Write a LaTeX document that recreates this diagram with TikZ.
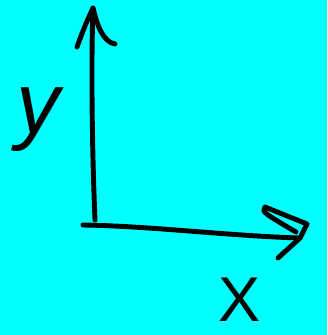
\documentclass[tikz,border=0pt]{standalone}
\usepackage{fontspec}
\setmainfont{Liberation Sans}
\definecolor{sheet}{RGB}{0,255,255}
\begin{document}
\begin{tikzpicture}[x=0.03cm,y=-0.03cm,line width=4.2pt,line cap=round,line join=round]
  \fill[sheet] (0,0) rectangle (327,335);
  \useasboundingbox (0,0) rectangle (327,335);
  % axes
  \coordinate (yfoot) at (95,220);
  \coordinate (ytip)  at (93,8);
  \coordinate (xfoot) at (83,225);
  \coordinate (xtip)  at (300,238);
  \draw (yfoot) .. controls (92,150) and (91,60) .. (ytip);
  \draw (77,47) .. controls (84,28) .. (ytip) .. controls (97,25) and (103,42) .. (115,44);
  \draw (xfoot) .. controls (150,226) and (230,236) .. (xtip);
  \draw (278,258) -- (xtip) -- (307,224) -- (265,207) .. controls (262,212) .. (296,232);

  \node (ylab) at (38,120) {\fontsize{74}{74}\selectfont\itshape y};
  \node (xlab) at (240,300) {\fontsize{54}{54}\selectfont X};
\end{tikzpicture}
\end{document}
